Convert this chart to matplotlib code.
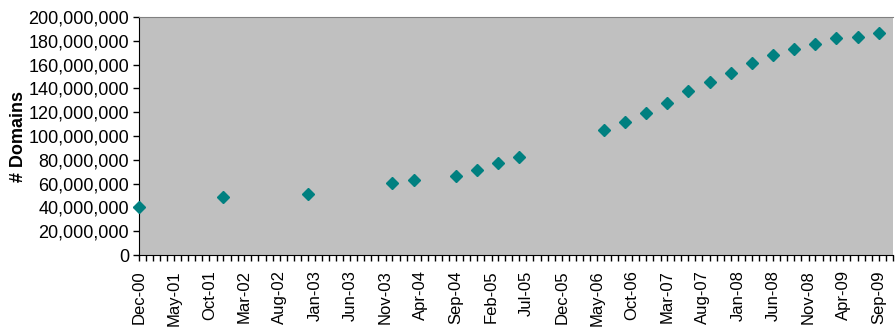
import datetime as dt
import matplotlib
matplotlib.use("Agg")
import matplotlib.pyplot as plt
import matplotlib.dates as mdates
from matplotlib.ticker import FuncFormatter, MultipleLocator, FixedLocator

plt.rcParams['font.family'] = ['Liberation Sans', 'DejaVu Sans']

# survey dates (year, month) and registered domain totals
dates = [(2000, 12), (2001, 12), (2002, 12), (2003, 12), (2004, 3), (2004, 9),
         (2004, 12), (2005, 3), (2005, 6), (2006, 6), (2006, 9), (2006, 12),
         (2007, 3), (2007, 6), (2007, 9), (2007, 12), (2008, 3), (2008, 6),
         (2008, 9), (2008, 12), (2009, 3), (2009, 6), (2009, 9)]
domains = [40.1e6, 49.0e6, 51.3e6, 60.2e6, 63.0e6, 66.4e6,
           71.4e6, 77.0e6, 82.6e6, 104.8e6, 111.8e6, 119.6e6,
           127.7e6, 137.8e6, 145.6e6, 152.7e6, 161.6e6, 167.8e6,
           173.4e6, 177.0e6, 182.4e6, 183.4e6, 186.6e6]


def month(i):
    # i-th month counted from Dec 2000
    y, m = divmod(2000 * 12 + 11 + i, 12)
    return dt.date(y, m + 1, 1)


x = [dt.date(y, m, 1) for y, m in dates]

fig = plt.figure(figsize=(8.96, 3.33), dpi=100)
ax = fig.add_axes([0.1551, 0.2342, 0.8416, 0.7147])
ax.set_facecolor('#C0C0C0')

ax.plot(x, domains, linestyle='none', marker='D', markersize=5.8,
        color='#008080', markeredgecolor='#008080', clip_on=False, zorder=3)

ax.set_ylim(0, 200e6)
ax.yaxis.set_major_locator(MultipleLocator(20e6))
ax.yaxis.set_major_formatter(FuncFormatter(lambda v, p: f"{int(v):,}"))

ax.set_xlim(month(0), month(107))
ax.xaxis.set_major_locator(FixedLocator([mdates.date2num(month(i)) for i in range(0, 106, 5)]))
ax.xaxis.set_minor_locator(FixedLocator([mdates.date2num(month(i)) for i in range(108)]))
ax.xaxis.set_major_formatter(mdates.DateFormatter('%b-%y'))

ax.tick_params(axis='y', which='major', direction='out', length=4, width=1,
               labelsize=13, pad=3)
ax.tick_params(axis='x', which='both', direction='out', length=4, width=1,
               labelsize=12, pad=7, labelrotation=90)

ax.spines['left'].set_color('black')
ax.spines['bottom'].set_color('black')
ax.spines['top'].set_color('#808080')
ax.spines['right'].set_visible(False)

ax.set_ylabel('# Domains', fontsize=13, fontweight='bold', labelpad=1)

fig.savefig('out.png', dpi=100)
